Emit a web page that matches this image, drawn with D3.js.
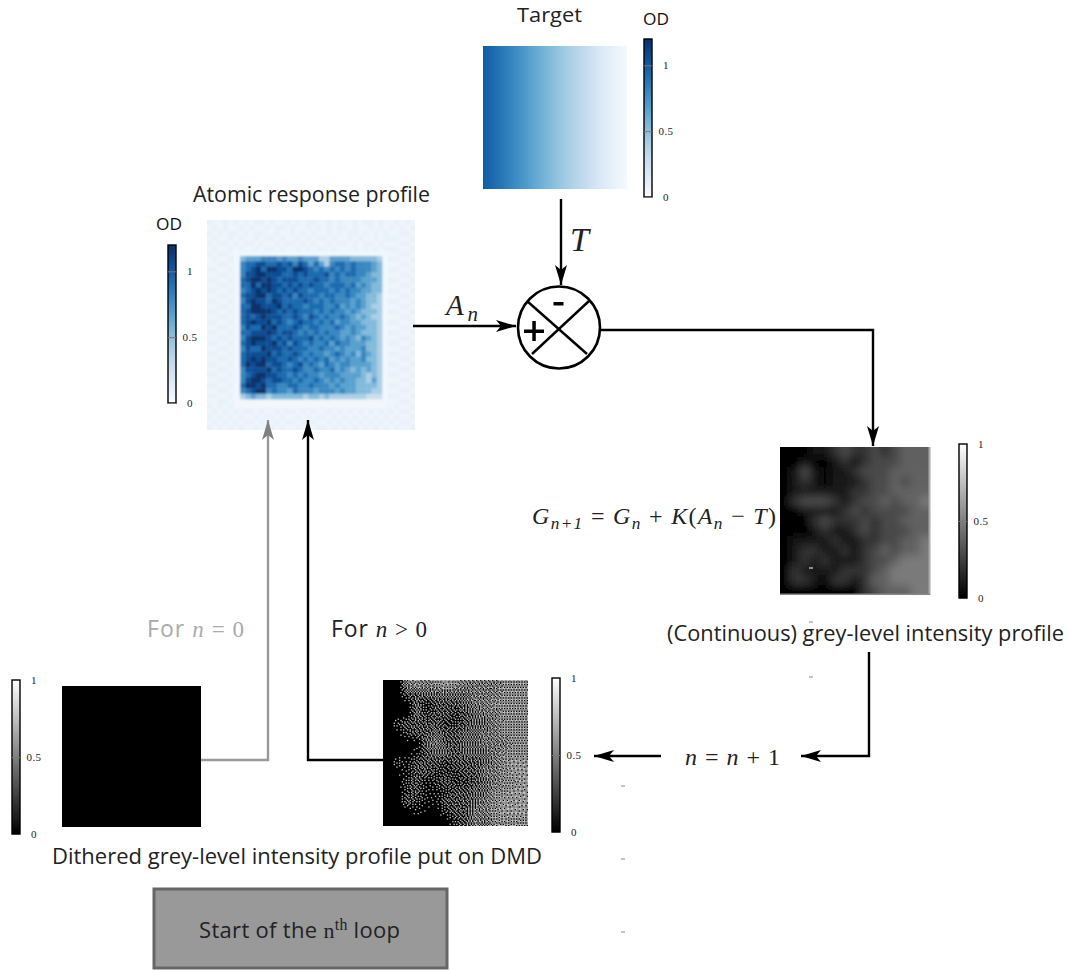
<!DOCTYPE html>
<html><head><meta charset="utf-8">
<script src="https://cdn.jsdelivr.net/npm/d3@7"></script>
<style>html,body{margin:0;background:#fff}svg{display:block}</style></head>
<body><svg id="c" width="1069" height="970"></svg>
<script>
// ---- data ----
const targetValues=[1.0,.93,.86,.79,.72,.64,.57,.50,.43,.36,.29,.21,.14,.07,0.02];
const backgroundRows=[
"2112121212212112121221121211212212112121",
"1212112121121221211212121221211212121212",
"2121221212211211212121121212212121211221",
"1211212112122121121212212112121121222112",
"2122121221211212212121121221212212111221",
"1211212112122121121212212111212121222112",
"2122111221211212212121121222121212111221",
"1211222112122121121212212111212121222112",
"1122111221211212212121121222121212111221",
"2211212112122121121212212111212121222112",
"1122121221211212212121121222121212111221",
"2211212112122121121212212111212121222112",
"1122121221211212212121121222121212111221",
"2211212112122121121212212111212121222112",
"1122121221211212212121121222121212111221",
"2211212112122121121212212111212121222112",
"1122121221211212212121121222121212111221",
"2211212112122121121212212111212121222112",
"1122121221211212212121121222121212111221",
"2211212112122121121212212111212121222112",
"1122121221211212212121121222121212111221",
"2211212112122121121212212111212121222112",
"1122121221211212212121121222121212111221",
"2211212112122121121212212111212121222112",
"1122121221211212212121121222121212111221",
"2211212112122121121212212111212121222112",
"1122121221211212212121121222121212111221",
"2211212112122121121212212111212121222112",
"1122121221211212212121121222121212111221",
"2211212112122121121212212111212121222112",
"1122121221211212212121121222121212111221",
"2211212112122121121212212111212121222112",
"1122121221211212212121121222121212111221",
"2211212112122121121212212111212121222112",
"1122121221211212212121121222121212111221",
"2121212112122121121212212121212121212112",
"1212121221211212212121121212121212121221",
"2121212112122121121212212121212121212112",
"1212121221211212212121121212121212121221",
"2121212112122121121212212121212121212112"];
const atomRows=[
"455566656556555335555444443",
"677887787868757536776766654",
"678979988799876767676766654",
"688998887787877786767766544",
"789989878887778776766665554",
"779799887878787767776756544",
"678989878787767776767665544",
"788997887868777677667655443",
"689887987777876767666565443",
"779988897877677766756565433",
"789999878787776767665654443",
"787898887787687676676545433",
"789889787678776767566554443",
"687798977787677666765655443",
"778889878876767676655654443",
"689998787877786767656546543",
"789888978687676675766555443",
"687798887877766766565556443",
"788889787787676656765646543",
"789898877876767675656556443",
"798997887678676576566555543",
"688889787787667667565454543",
"678998877676766566655554343",
"689987887767667656565544353",
"799897766776676665655544443",
"678996766576665666565544433",
"345443444444344343333333222"];
const greyRows=[
"000112322323444",
"001001212333444",
"013101123334444",
"012101112334344",
"011111122334444",
"023332123343445",
"001111232333344",
"000232223233444",
"000121123233344",
"011112112233445",
"012211212343445",
"012121112334555",
"021111222345555",
"022102212445555",
"000000002344455"];
const ditherRows=[
"005656765555666",
"003344444555666",
"000413334556666",
"000423323455666",
"023333223445666",
"002334334455666",
"000045334455566",
"000134434445666",
"021333233345677",
"001332223355677",
"002312322345667",
"002311233446677",
"003211333456777",
"000100233556777",
"000000023546666"];
const odTicks=[0,0.5,1];
const greyTicks=[0,0.5,1];
const odDomain=[0,1.2];
const greyDomain=[0,1];
const markDashes=[[811,568,"#fff"],[811,677,"#888"],[623,786,"#888"],[623,859,"#888"],[623,932,"#888"],[811,622,"#888"]];
const connectors=[
 {c:"#000",p:[[561,199],[561,285]]},
 {c:"#000",p:[[413,326],[516,326]]},
 {c:"#000",p:[[599,330],[873,330],[873,446]]},
 {c:"#000",p:[[869,652],[869,756],[801,756]]},
 {c:"#000",p:[[661,756],[594,756]]},
 {c:"#000",p:[[383,760],[308,760],[308,420]]},
 {c:"#999",p:[[201,760],[268,760],[268,420]]}];
// ---- drawing ----
const svg=d3.select("#c");
const defs=svg.append("defs");
const SANS="'Open Sans',sans-serif", SERIF="'Liberation Serif',serif";
const blues=d3.scaleSequential(d3.interpolateBlues).domain(odDomain);
const greys=d3.scaleLinear().domain(greyDomain).range(["#000","#fff"]);
function blur(id,s){defs.append("filter").attr("id",id).attr("x","-5%").attr("y","-5%").attr("width","110%").attr("height","110%")
  .append("feGaussianBlur").attr("stdDeviation",s);}
blur("b1",1.1);blur("b4",4.2);blur("b03",0.4);
function clip(id,x,y,w,h){defs.append("clipPath").attr("id",id).append("rect").attr("x",x).attr("y",y).attr("width",w).attr("height",h);}
[["mk","#000"],["mg","#808080"]].forEach(([id,c])=>{
 defs.append("marker").attr("id",id).attr("markerUnits","userSpaceOnUse").attr("markerWidth",24).attr("markerHeight",16)
  .attr("refX",20).attr("refY",8).attr("orient","auto").append("path").attr("d","M0,2 L20,8 L0,14 L5,8 Z").attr("fill",c);});

function colorbar(x,y0,y1,scale,domain,ticks){
 const y=d3.scaleLinear().domain(domain).range([y1,y0]);
 const g=svg.append("g");
 const n=Math.round(y1-y0);
 g.selectAll("rect").data(d3.range(n)).join("rect").attr("x",x).attr("width",8)
  .attr("y",i=>y0+i).attr("height",1.2).attr("fill",i=>scale(y.invert(y0+i+.5)));
 g.append("rect").attr("x",x).attr("y",y0).attr("width",8).attr("height",y1-y0).attr("fill","none").attr("stroke","#000").attr("stroke-width",1.4);
 const ax=d3.axisRight(y).tickValues(ticks).tickSize(0).tickPadding(0).tickFormat(d=>d);
 const a=svg.append("g").attr("transform",`translate(${x+8},0)`).call(ax);
 a.select(".domain").remove();
 a.selectAll("text").attr("x",14).attr("text-anchor","middle").attr("dy","0.32em").attr("font-family",SERIF).attr("font-size",11).attr("letter-spacing",0.4).attr("fill","#222");
 a.selectAll(".tick line").attr("x2",-8).attr("stroke","#777").attr("stroke-width",d=>d>0&&d<1||domain[1]>1?1:0);
}
function txt(x,y,s,size,w,fill){const t=svg.append("text").attr("x",x).attr("y",y).text(s).attr("font-size",size)
  .attr("fill",fill||"#222").attr("font-family",SANS);
  if(w)t.attr("textLength",w).attr("lengthAdjust","spacingAndGlyphs");return t;}
function rich(x,y,segs,size,w,fill){
 const t=svg.append("text").attr("x",x).attr("y",y).attr("font-size",size).attr("fill",fill||"#222").attr("font-family",SERIF).attr("xml:space","preserve").style("white-space","pre");
 if(w)t.attr("textLength",w).attr("lengthAdjust","spacing");
 let cur=0;
 segs.forEach(s=>{const sh=s.sub?0.2:s.sup?-0.36:0;const fs=(s.sub||s.sup)?size*0.72:size;const tgt=sh*size;
  t.append("tspan").text(s.t).attr("dy",tgt-cur).attr("font-size",fs).attr("font-style",s.i?"italic":"normal").attr("font-family",s.f||null);cur=tgt;});
 return t;
}
// target
const tg=defs.append("linearGradient").attr("id","tgrad");
const tpos=d3.scaleLinear().domain([0,targetValues.length-1]).range([0,100]);
tg.selectAll("stop").data(targetValues).join("stop").attr("offset",(d,i)=>tpos(i)+"%").attr("stop-color",d=>blues(d));
svg.append("rect").attr("x",483).attr("y",46).attr("width",144).attr("height",143).attr("fill","url(#tgrad)");
colorbar(644,39,197,blues,odDomain,odTicks);
txt(517,22,"Target",20.4,65);txt(643,25,"OD",17,26,"#111");
// atomic image
clip("ca",207,220,208,210);
const ag=svg.append("g").attr("clip-path","url(#ca)");
const ai=ag.append("g").attr("filter","url(#b1)");
const bx=d3.scaleBand().domain(d3.range(40)).range([207,415]), by=d3.scaleBand().domain(d3.range(40)).range([220,430]);
const bgCells=backgroundRows.flatMap((r,j)=>r.split("").map((c,i)=>({i,j,v:0.02+(+c)*0.035})));
ai.selectAll("rect.b").data(bgCells).join("rect").attr("class","b").attr("x",d=>bx(d.i)-(d.i==0?5:0)).attr("y",d=>by(d.j)-(d.j==0?5:0)).attr("width",d=>bx.bandwidth()+.3+(d.i==0||d.i==39?5:0)).attr("height",d=>by.bandwidth()+.3+(d.j==0||d.j==39?5:0)).attr("fill",d=>blues(d.v));
ai.append("rect").attr("x",234).attr("y",252).attr("width",154).attr("height",156).attr("fill",blues(0.035));
const ax=d3.scaleBand().domain(d3.range(27)).range([240,382]), ay=d3.scaleBand().domain(d3.range(27)).range([256,399]);
const cells=atomRows.flatMap((r,j)=>r.padEnd(27,"4").slice(0,27).split("").map((c,i)=>({i,j,v:+c/9*1.2})));
ai.selectAll("rect.c").data(cells).join("rect").attr("class","c").attr("x",d=>ax(d.i)).attr("y",d=>ay(d.j)).attr("width",ax.bandwidth()+.3).attr("height",ay.bandwidth()+.3).attr("fill",d=>blues(d.v));
colorbar(168,245,403,blues,odDomain,odTicks);
txt(193,202,"Atomic response profile",21.7,237);txt(156,230,"OD",17,26,"#111");
// grey image
function smooth(rows,x0,y0,w,h,id,filt,gain){
 clip(id,x0,y0,w,h);
 const g=svg.append("g").attr("clip-path",`url(#${id})`).append("g").attr("filter",`url(#${filt})`);
 const sx=d3.scaleBand().domain(d3.range(15)).range([x0,x0+w]),sy=d3.scaleBand().domain(d3.range(15)).range([y0,y0+h]);
 const dd=rows.flatMap((r,j)=>r.split("").map((c,i)=>({i,j,v:+c*gain})));
 g.selectAll("rect").data(dd).join("rect")
  .attr("x",d=>sx(d.i)-(d.i==0?20:0)).attr("y",d=>sy(d.j)-(d.j==0?20:0))
  .attr("width",d=>sx.bandwidth()+.3+(d.i==0||d.i==14?20:0)).attr("height",d=>sy.bandwidth()+.3+(d.j==0||d.j==14?20:0))
  .attr("fill",d=>greys(d.v));
}
smooth(greyRows,780,447,150,148,"cg","b4",0.095);
svg.append("rect").attr("x",928.5).attr("y",447).attr("width",2).attr("height",148).attr("fill","#aaa");
svg.append("rect").attr("x",780).attr("y",593.5).attr("width",150).attr("height",1.5).attr("fill","#888");
colorbar(959,444,598,greys,greyDomain,greyTicks);
// dither image (error diffusion of the read grey levels)
(function(){
 const x0=383,y0=680,w=145,h=146,px=1.33;
 clip("cd",x0,y0,w,h);
 const g=svg.append("g").attr("clip-path","url(#cd)");
 g.append("rect").attr("x",x0).attr("y",y0).attr("width",w).attr("height",h).attr("fill","#000");
 const grid=ditherRows.map(r=>r.split("").map(Number));
 const nx=Math.ceil(w/px),ny=Math.ceil(h/px);
 const sample=(u,v)=>{const a=Math.min(13.999,Math.max(0,u*15-.5)),b=Math.min(13.999,Math.max(0,v*15-.5));const i=a|0,j=b|0,fa=a-i,fb=b-j;
   return (grid[j][i]*(1-fa)+grid[j][i+1]*fa)*(1-fb)+(grid[j+1][i]*(1-fa)+grid[j+1][i+1]*fa)*fb;};
 const buf=d3.range(ny).map(j=>d3.range(nx).map(i=>sample((i+.5)/nx,(j+.5)/ny)/8));
 const dots=[];
 for(let j=0;j<ny;j++)for(let i=0;i<nx;i++){const o=buf[j][i],n=o>0.5?1:0,e=o-n;if(n)dots.push([i,j]);
   if(i+1<nx)buf[j][i+1]+=e*7/16;
   if(j+1<ny){if(i>0)buf[j+1][i-1]+=e*3/16;buf[j+1][i]+=e*5/16;if(i+1<nx)buf[j+1][i+1]+=e/16;}}
 const dx=d3.scaleLinear().domain([0,nx]).range([x0,x0+nx*px]),dy=d3.scaleLinear().domain([0,ny]).range([y0,y0+ny*px]);
 g.append("g").attr("filter","url(#b03)").selectAll("rect").data(dots).join("rect").attr("x",d=>dx(d[0])).attr("y",d=>dy(d[1])).attr("width",px).attr("height",px).attr("fill","#c4c4c4");
})();
colorbar(552,678,832,greys,greyDomain,greyTicks);
// black image
svg.append("rect").attr("x",62).attr("y",686).attr("width",139).attr("height",141).attr("fill","#000");
colorbar(12,680,834,greys,greyDomain,greyTicks);
// connectors
const line=d3.line();
svg.append("g").selectAll("path").data(connectors).join("path").attr("d",d=>line(d.p)).attr("fill","none").attr("stroke",d=>d.c).attr("stroke-width",2.4)
 .attr("marker-end",d=>d.c==="#000"?"url(#mk)":"url(#mg)");
// summing junction
svg.append("circle").attr("cx",559).attr("cy",327.5).attr("r",41).attr("fill","none").attr("stroke","#000").attr("stroke-width",2.6);
[[527,301,587,354],[589,301,532,354]].forEach(l=>svg.append("line").attr("x1",l[0]).attr("y1",l[1]).attr("x2",l[2]).attr("y2",l[3]).attr("stroke","#000").attr("stroke-width",2.4));
svg.append("rect").attr("x",553.5).attr("y",302).attr("width",10).attr("height",3.5).attr("fill","#000");
svg.append("rect").attr("x",524).attr("y",329.5).attr("width",20).attr("height",3.5).attr("fill","#000");
svg.append("rect").attr("x",532.3).attr("y",321).attr("width",3.5).attr("height",20).attr("fill","#000");
// labels
rich(570,251,[{t:"T",i:1}],34);
rich(446,315,[{t:"A",i:1},{t:"n",i:1,sub:1}],29,32);
rich(532,524,[{t:"G",i:1},{t:"n+1",i:1,sub:1},{t:" = "},{t:"G",i:1},{t:"n",i:1,sub:1},{t:" + "},{t:"K",i:1},{t:"("},{t:"A",i:1},{t:"n",i:1,sub:1},{t:" − "},{t:"T",i:1},{t:")"}],24,244);
txt(667,641,"(Continuous) grey-level intensity profile",21.7,397);
rich(147,637,[{t:"For ",f:SANS},{t:"n",i:1},{t:" = 0"}],23,97,"#aaa");
rich(331,637,[{t:"For ",f:SANS},{t:"n",i:1},{t:" > 0"}],23,96);
rich(685,765,[{t:"n",i:1},{t:" = "},{t:"n",i:1},{t:" + 1"}],24,95);
txt(52,864,"Dithered grey-level intensity profile put on DMD",21.7,490);
svg.append("rect").attr("x",154).attr("y",889).attr("width",293).attr("height",79).attr("fill","#999").attr("stroke","#666").attr("stroke-width",3);
rich(199,938,[{t:"Start of the ",f:SANS},{t:"n"},{t:"th",sup:1},{t:" "},{t:"loop",f:SANS}],22,201);
svg.append("g").selectAll("rect").data(markDashes).join("rect").attr("x",d=>d[0]-2).attr("y",d=>d[1]-.5).attr("width",4).attr("height",1).attr("fill",d=>d[2]);
</script></body></html>
